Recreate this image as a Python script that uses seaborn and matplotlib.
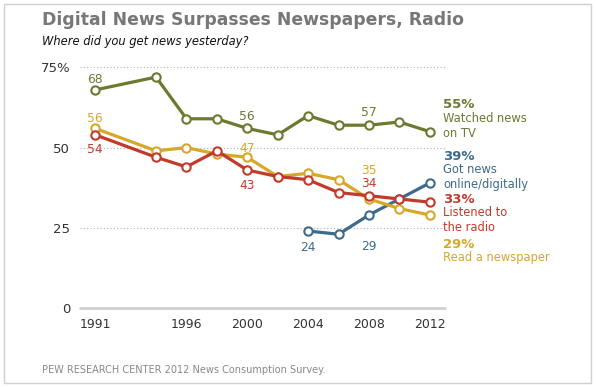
import matplotlib
matplotlib.use("Agg")
import matplotlib.pyplot as plt
import matplotlib.patches as patches
import pandas as pd
import seaborn as sns

# survey years and shares (%) of people who got news "yesterday"
years = [1991, 1994, 1996, 1998, 2000, 2002, 2004, 2006, 2008, 2010, 2012]
tv = [68, 72, 59, 59, 56, 54, 60, 57, 57, 58, 55]
radio = [54, 47, 44, 49, 43, 41, 40, 36, 35, 34, 33]
newspaper = [56, 49, 50, 48, 47, 41, 42, 40, 34, 31, 29]
online_years = [2004, 2006, 2008, 2010, 2012]
online = [24, 23, 29, 34, 39]

x_ticks = [1991, 1996, 2000, 2004, 2008, 2012]
y_ticks = [0, 25, 50, 75]
y_tick_labels = ["0", "25", "50", "75%"]

# labelled points: (series, year, text)
point_labels = [
    ("tv", 1991, "68"), ("tv", 2000, "56"), ("tv", 2008, "57"),
    ("newspaper", 1991, "56"), ("newspaper", 2000, "47"), ("newspaper", 2008, "35"),
    ("radio", 1991, "54"), ("radio", 2000, "43"), ("radio", 2008, "34"),
    ("online", 2004, "24"), ("online", 2008, "29"),
]

# end-of-line labels
end_labels = {
    "tv": ("55%", "Watched news\non TV"),
    "online": ("39%", "Got news\nonline/digitally"),
    "radio": ("33%", "Listened to\nthe radio"),
    "newspaper": ("29%", "Read a newspaper"),
}

colors = {"tv": "#6b7a2f", "radio": "#c23a2b", "newspaper": "#d6a82a", "online": "#3e6a8c"}


def axis_pos(year):
    # the original chart squeezes 1991 in two steps before 1994
    return 1990 if year == 1991 else year


df = pd.concat([
    pd.DataFrame({"year": years, "share": tv, "series": "tv"}),
    pd.DataFrame({"year": years, "share": radio, "series": "radio"}),
    pd.DataFrame({"year": years, "share": newspaper, "series": "newspaper"}),
    pd.DataFrame({"year": online_years, "share": online, "series": "online"}),
])
df["x"] = df["year"].map(axis_pos)

sns.set_style("white")
plt.rcParams["font.family"] = ["DejaVu Sans"]

fig = plt.figure(figsize=(5.96, 3.87), dpi=100)
ax = fig.add_axes([80 / 596, 79 / 387, 365 / 596, 78 * 3.207 / 387])

for name in ["online", "newspaper", "radio", "tv"]:
    sub = df[df["series"] == name]
    sns.lineplot(data=sub, x="x", y="share", ax=ax, color=colors[name], lw=2.3,
                 marker="o", markersize=6, markerfacecolor="white",
                 markeredgecolor=colors[name], markeredgewidth=1.5, zorder=3)

# gridlines
for v in y_ticks[1:]:
    ax.axhline(v, color="#b0b0b0", lw=0.8, ls=(0, (1, 2)), zorder=1)
ax.axhline(0, color="#d0d0d0", lw=2, zorder=1, clip_on=False)

ax.set_xlim(1989, 2013)
ax.set_ylim(0, 78)
ax.set_xticks([axis_pos(y) for y in x_ticks])
ax.set_xticklabels([str(y) for y in x_ticks])
ax.set_yticks(y_ticks)
ax.set_yticklabels(y_tick_labels)
ax.tick_params(axis="x", length=0, pad=7, labelsize=9, labelcolor="#333333")
ax.tick_params(axis="y", length=0, pad=7, labelsize=9.5, labelcolor="#333333")
ax.set_xlabel("")
ax.set_ylabel("")
sns.despine(ax=ax, left=True, bottom=True)
ax.patch.set_alpha(0)

# point value labels
offsets = {
    ("tv", 1991): 10, ("tv", 2000): 12, ("tv", 2008): 13,
    ("newspaper", 1991): 10, ("newspaper", 2000): 9, ("newspaper", 2008): 28,
    ("radio", 1991): -15, ("radio", 2000): -15, ("radio", 2008): 12,
    ("online", 2004): -16, ("online", 2008): -32,
}
for name, yr, text in point_labels:
    row = df[(df["series"] == name) & (df["year"] == yr)].iloc[0]
    ax.annotate(text, (row["x"], row["share"]), xytext=(0, offsets[(name, yr)]),
                textcoords="offset pixels", ha="center", va="center",
                fontsize=8.8, color=colors[name])

# end labels on the right
end_y = {"tv": (105, 126), "online": (157, 177), "radio": (200, 220), "newspaper": (244, 258)}
for name, (pct, desc) in end_labels.items():
    y_pct, y_desc = end_y[name]
    fig.text(443 / 596, 1 - y_pct / 387, pct, fontsize=9.5, fontweight="bold",
             color=colors[name], va="center", ha="left")
    fig.text(443 / 596, 1 - y_desc / 387, desc, fontsize=8.3, color=colors[name],
             va="center", ha="left", linespacing=1.15)

fig.text(42 / 596, 1 - 20 / 387, "Digital News Surpasses Newspapers, Radio",
         fontsize=12.4, fontweight="bold", color="#777777", va="center")
fig.text(42 / 596, 1 - 42 / 387, "Where did you get news yesterday?",
         fontsize=8.3, style="italic", color="#111111", va="center")
fig.text(42 / 596, 1 - 370 / 387, "PEW RESEARCH CENTER 2012 News Consumption Survey.",
         fontsize=7, color="#888888", va="center")

fig.patches.append(patches.Rectangle((4 / 596, 4 / 387), 587 / 596, 379 / 387,
                                     transform=fig.transFigure, fill=False,
                                     edgecolor="#d0d0d0", lw=1))

fig.savefig("out.png", dpi=100)
